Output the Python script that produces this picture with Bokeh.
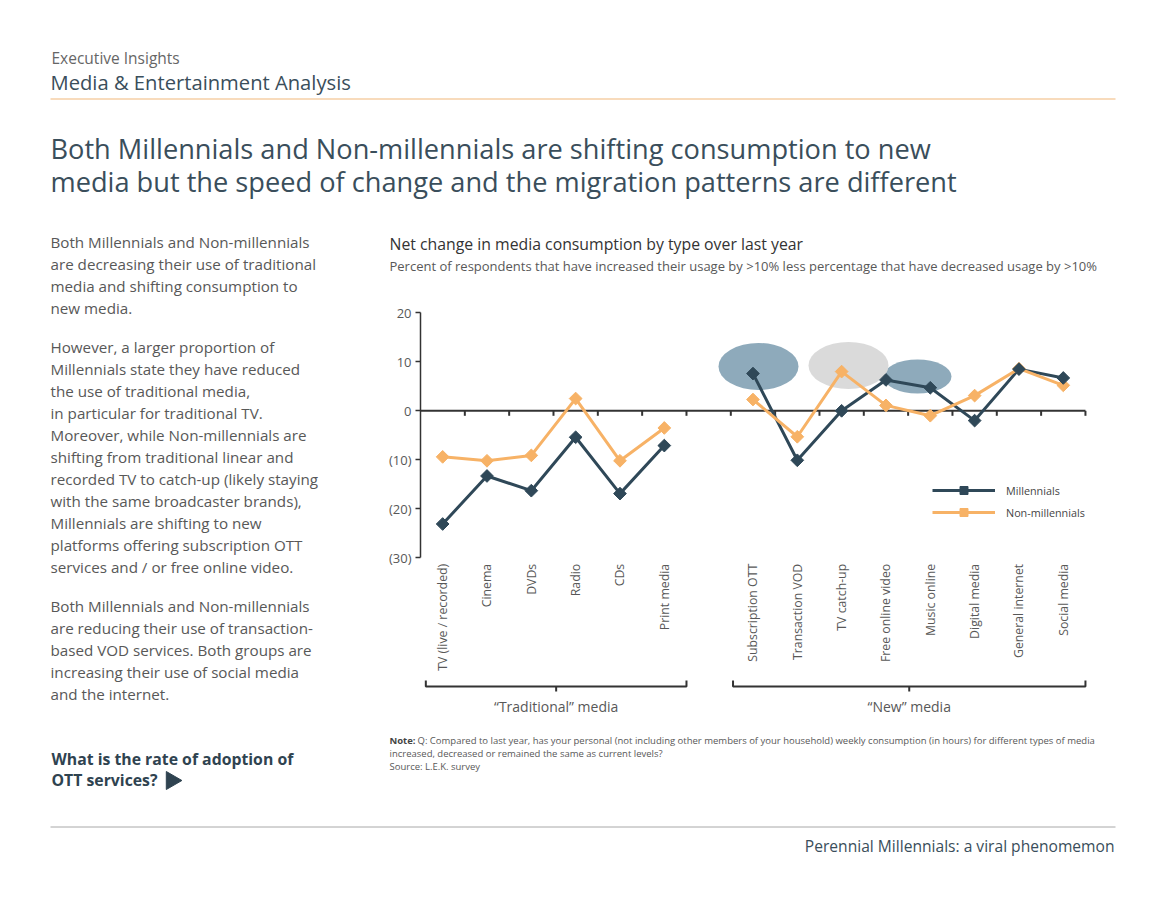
import math
from bokeh.plotting import figure
from bokeh.models import Range1d, LinearAxis, FixedTicker, Legend, LegendItem
from bokeh.core.properties import value
from bokeh.embed import file_html
from bokeh.resources import INLINE

# ---------------- data ----------------
traditional = ["TV (live / recorded)", "Cinema", "DVDs", "Radio", "CDs", "Print media"]
new_media = ["Subscription OTT", "Transaction VOD", "TV catch-up", "Free online video",
             "Music online", "Digital media", "General internet", "Social media"]
mill_trad = [-23.1, -13.3, -16.3, -5.4, -16.9, -7.1]
nonmill_trad = [-9.4, -10.2, -9.1, 2.5, -10.2, -3.5]
mill_new = [7.6, -10.1, 0.0, 6.3, 4.7, -2.0, 8.5, 6.7]
nonmill_new = [2.3, -5.3, 8.0, 1.1, -1.0, 3.1, 8.6, 5.2]
y_ticks = [20, 10, 0, -10, -20, -30]
y_tick_labels = ["20", "10", "0", "(10)", "(20)", "(30)"]
group_labels = ["\u201cTraditional\u201d media", "\u201cNew\u201d media"]
series_names = ["Millennials", "Non-millennials"]

# ---------------- layout calibration (page px -> data) ----------------
W, H = 1149, 884
OFF = 0
PX0, PXU = 420.0, 44.33
PY0, PYU = 410.3, 4.9


def dx(px):
    return (px - PX0) / PXU


def dy(py):
    return (PY0 - py) / PYU


FONT = "Open Sans"
C_MILL = "#2f4858"
C_NON = "#f7b266"
C_TITLE = "#3a4e5b"
C_TEXT = "#585858"

p = figure(width=W, height=H, x_range=Range1d(dx(OFF), dx(OFF + W)), y_range=Range1d(dy(OFF + H), dy(OFF)),
           x_axis_type=None, y_axis_type=None, toolbar_location=None, output_backend="svg",
           min_border=0, outline_line_color=None, title=None,
           background_fill_color="white", border_fill_color="white")


def txt(px, py, s, size, color, bold=False, align="left", baseline="middle"):
    p.text(x=[dx(px)], y=[dy(py)], text=[s], text_font=value(FONT),
           text_font_size=value(f"{size}px"), text_color=color,
           text_font_style="bold" if bold else "normal",
           text_align=align, text_baseline=baseline)


# ---------------- page header ----------------
txt(51, 57, "Executive Insights", 15.5, "#666666")
txt(50, 81, "Media & Entertainment Analysis", 20.2, C_TITLE)
p.segment(x0=[dx(50)], y0=[dy(98.5)], x1=[dx(1115)], y1=[dy(98.5)], line_color="#f6cfa6", line_width=1.5)
txt(50, 148, "Both Millennials and Non-millennials are shifting consumption to new", 27.2, C_TITLE)
txt(50, 181, "media but the speed of change and the migration patterns are different", 27.2, C_TITLE)

# ---------------- left commentary ----------------
para = [
    (241, "Both Millennials and Non-millennials"),
    (263, "are decreasing their use of traditional"),
    (285, "media and shifting consumption to"),
    (307, "new media."),
    (346, "However, a larger proportion of"),
    (368, "Millennials state they have reduced"),
    (390, "the use of traditional media,"),
    (412, "in particular for traditional TV."),
    (434, "Moreover, while Non-millennials are"),
    (456, "shifting from traditional linear and"),
    (478, "recorded TV to catch-up (likely staying"),
    (500, "with the same broadcaster brands),"),
    (522, "Millennials are shifting to new"),
    (544, "platforms offering subscription OTT"),
    (566, "services and / or free online video."),
    (605, "Both Millennials and Non-millennials"),
    (627, "are reducing their use of transaction-"),
    (649, "based VOD services. Both groups are"),
    (671, "increasing their use of social media"),
    (693, "and the internet."),
]
p.text(x=[dx(50)] * len(para), y=[dy(a) for a, _ in para], text=[b for _, b in para],
       text_font=value(FONT), text_font_size=value("15.2px"), text_color=C_TEXT,
       text_baseline="middle")
txt(51, 758, "What is the rate of adoption of", 15.8, "#2f4350", bold=True)
txt(51, 779, "OTT services?", 15.8, "#2f4350", bold=True)
p.scatter(x=[dx(171)], y=[dy(780)], marker="triangle", size=18, angle=-math.pi / 2,
          fill_color="#2f4350", line_color="#2f4350")

# ---------------- chart titles ----------------
txt(389, 243, "Net change in media consumption by type over last year", 15.8, "#333333")
txt(389, 265, "Percent of respondents that have increased their usage by >10% less percentage that have decreased usage by >10%", 13, C_TEXT)

# ---------------- highlight ellipses ----------------
p.ellipse(x=[dx(758), dx(917)], y=[dy(366), dy(376)], width=[80 / PXU, 68 / PXU],
          height=[47 / PYU, 34 / PYU], fill_color="#8eaabb", line_color=None)
p.ellipse(x=[dx(848)], y=[dy(365)], width=[80 / PXU], height=[47 / PYU],
          fill_color="#dadada", line_color=None)

# ---------------- zero line with category separators ----------------
trad_x = [i + 0.5 for i in range(len(traditional))]
new_x = [len(traditional) + 1 + i + 0.5 for i in range(len(new_media))]
n_slots = len(traditional) + 1 + len(new_media)
p.segment(x0=[0], y0=[0], x1=[n_slots], y1=[0], line_color="#333333", line_width=2)
seps = list(range(1, n_slots + 1))
p.segment(x0=seps, y0=[0] * len(seps), x1=seps, y1=[-5 / PYU] * len(seps),
          line_color="#333333", line_width=2)

# ---------------- series ----------------
lm1 = p.line(trad_x, mill_trad, line_color=C_MILL, line_width=3)
p.line(new_x, mill_new, line_color=C_MILL, line_width=3)
ln1 = p.line(trad_x, nonmill_trad, line_color=C_NON, line_width=3)
p.line(new_x, nonmill_new, line_color=C_NON, line_width=3)
sn = p.scatter(trad_x + new_x, nonmill_trad + nonmill_new, marker="square", angle=math.pi / 4,
               size=9, fill_color=C_NON, line_color=C_NON)
sm = p.scatter(trad_x + new_x, mill_trad + mill_new, marker="square", angle=math.pi / 4,
               size=9, fill_color=C_MILL, line_color=C_MILL)

# ---------------- axes ----------------
yax = LinearAxis(fixed_location=0, bounds=(min(y_ticks), max(y_ticks)),
                 ticker=FixedTicker(ticks=y_ticks),
                 major_label_overrides={t: l for t, l in zip(y_ticks, y_tick_labels)})
yax.axis_line_color = "#333333"
yax.axis_line_width = 1.5
yax.major_tick_line_color = "#333333"
yax.major_tick_line_width = 1.5
yax.major_tick_in = 0
yax.major_tick_out = 5
yax.minor_tick_line_color = None
yax.major_label_text_font = FONT
yax.major_label_text_font_size = "13px"
yax.major_label_text_color = C_TEXT
yax.major_label_standoff = 4
p.add_layout(yax, "left")

cat_x = trad_x + new_x
cat_names = traditional + new_media
cax = LinearAxis(fixed_location=min(y_ticks), ticker=FixedTicker(ticks=cat_x),
                 major_label_overrides={x: n for x, n in zip(cat_x, cat_names)})
cax.axis_line_color = None
cax.major_tick_line_color = None
cax.minor_tick_line_color = None
cax.major_label_orientation = math.pi / 2
cax.major_label_text_font = FONT
cax.major_label_text_font_size = "12.3px"
cax.major_label_text_color = C_TEXT
cax.major_label_standoff = 0
p.add_layout(cax, "below")

# ---------------- group brackets ----------------
yb = dy(686)
up = 6 / PYU
dn = 5 / PYU
groups = [(0.12, len(traditional)), (len(traditional) + 1.05, n_slots)]
for (a, b), lab in zip(groups, group_labels):
    m = (a + b) / 2
    p.multi_line(xs=[[a, a, b, b], [m, m]], ys=[[yb + up, yb, yb, yb + up], [yb, yb - dn]],
                 line_color="#333333", line_width=2)
    p.text(x=[m], y=[dy(706)], text=[lab], text_font=value(FONT), text_font_size=value("14px"),
           text_color=C_TEXT, text_align="center", text_baseline="middle")

# ---------------- legend ----------------
legend = Legend(items=[LegendItem(label=series_names[0], renderers=[lm1, sm]),
                       LegendItem(label=series_names[1], renderers=[ln1, sn])],
                location=(932 - OFF, OFF + H - 522), glyph_width=63, glyph_height=20, label_standoff=11,
                spacing=2, padding=0, margin=0, border_line_alpha=0, background_fill_alpha=0,
                label_text_font=FONT, label_text_font_size="10.8px", label_text_color="#444444")
p.add_layout(legend, "center")

# ---------------- notes ----------------
txt(389, 740, "Note:", 9.5, "#444444", bold=True)
txt(417, 740, "Q: Compared to last year, has your personal (not including other members of your household) weekly consumption (in hours) for different types of media", 9.5, C_TEXT)
txt(389, 753, "increased, decreased or remained the same as current levels?", 9.5, C_TEXT)
txt(389, 766, "Source: L.E.K. survey", 9.5, C_TEXT)

# ---------------- footer ----------------
p.segment(x0=[dx(50)], y0=[dy(826.5)], x1=[dx(1115)], y1=[dy(826.5)], line_color="#a8a8a8", line_width=1)
txt(1114, 845, "Perennial Millennials: a viral phenomemon", 15.6, C_TITLE, align="right")

open("out.html", "w").write(file_html(p, INLINE))
